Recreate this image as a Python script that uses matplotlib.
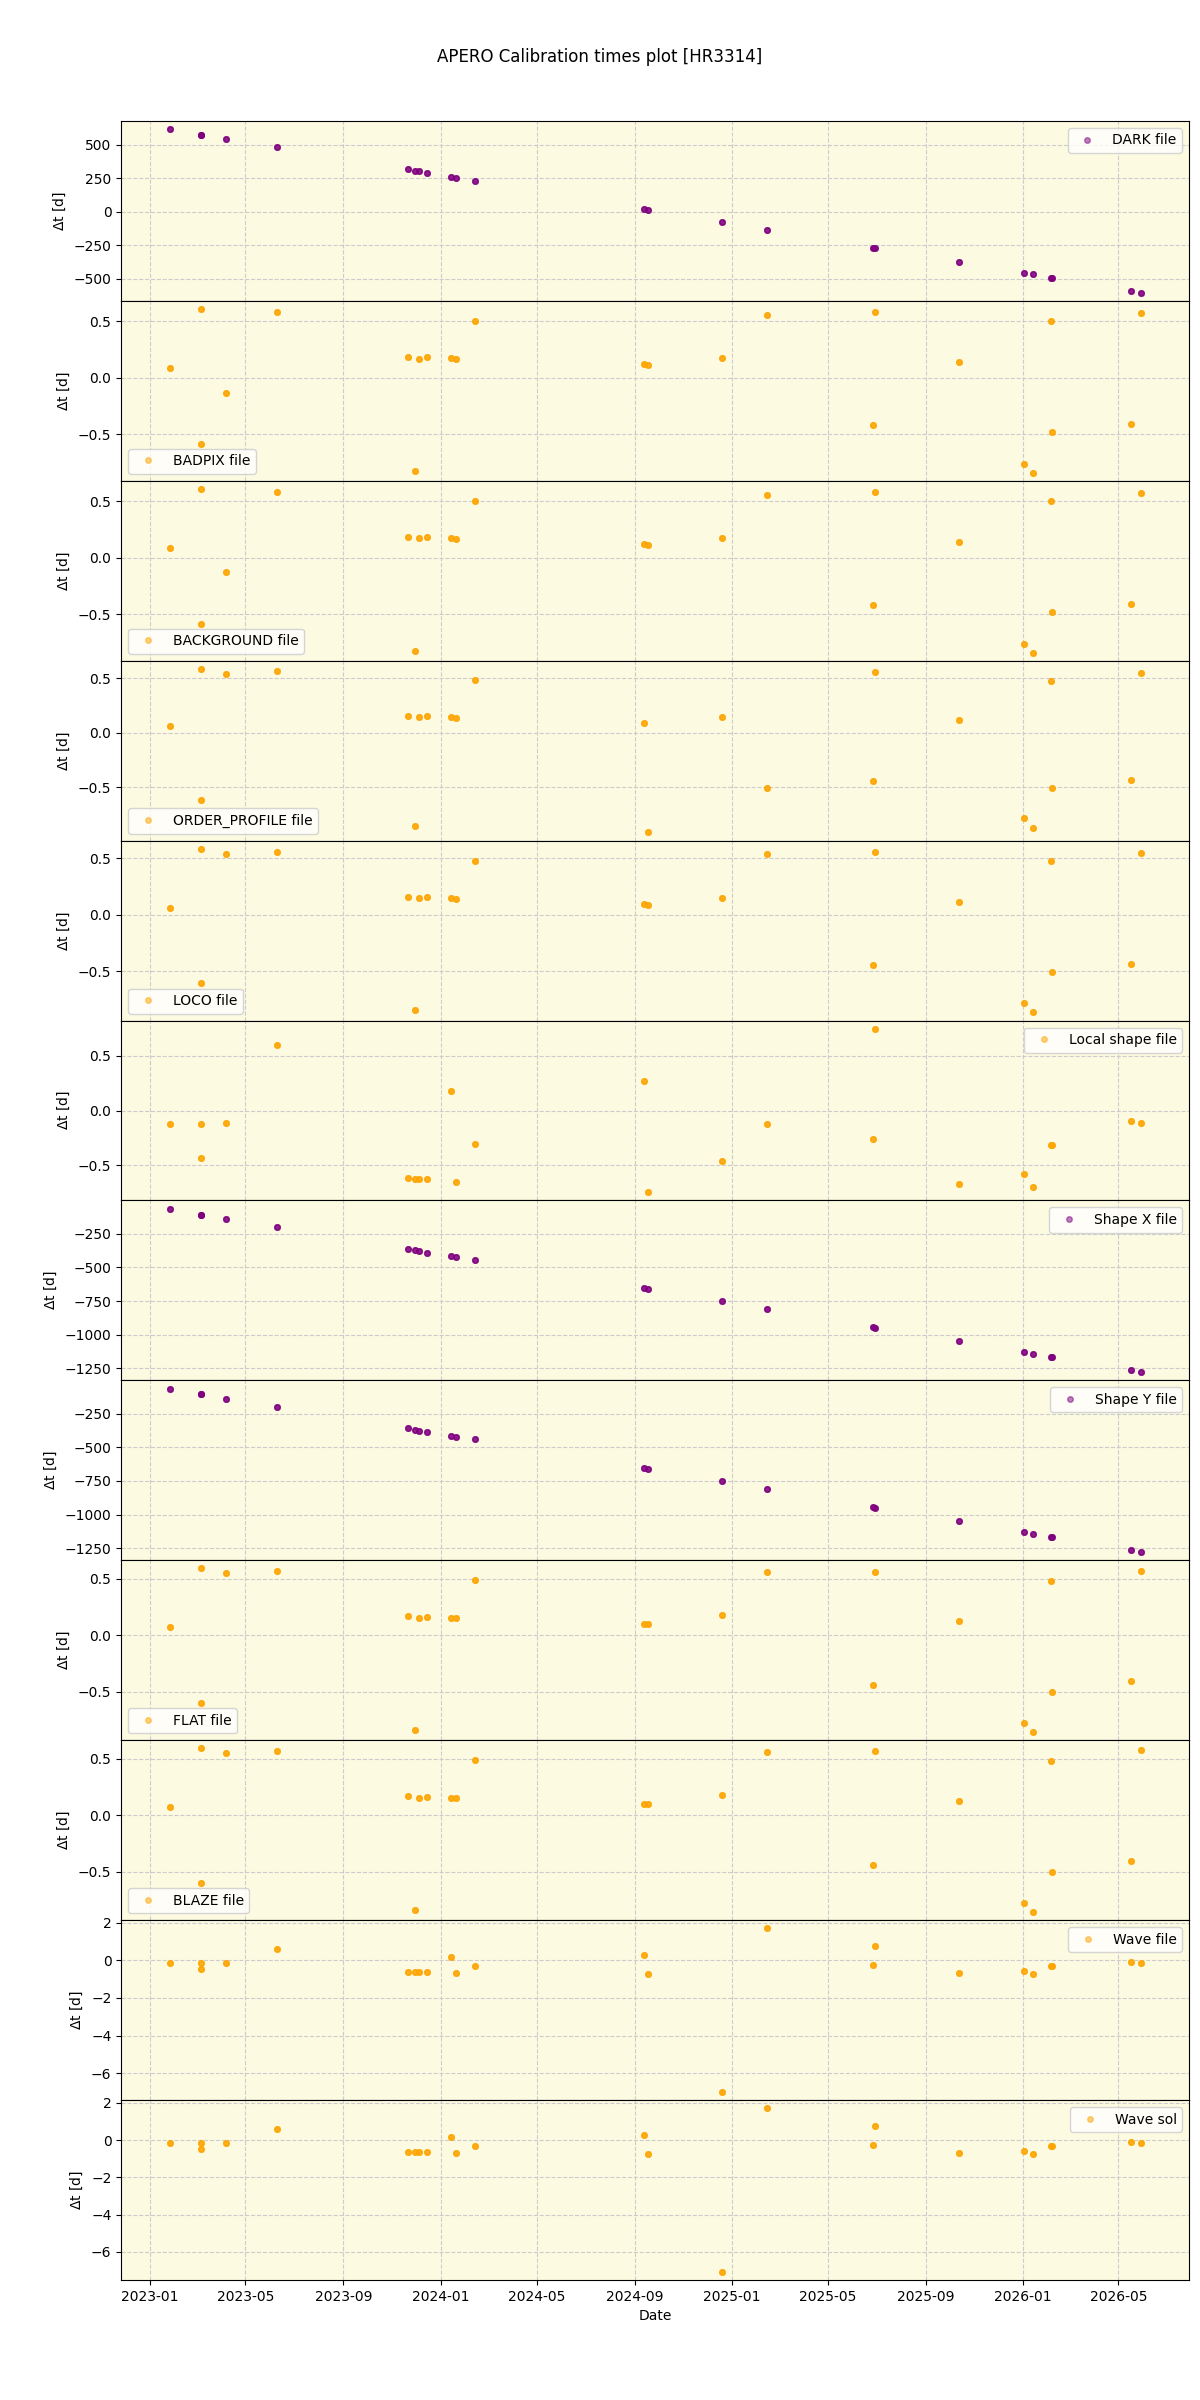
import matplotlib
matplotlib.use("Agg")
import matplotlib.pyplot as plt
import matplotlib.dates as mdates
import numpy as np
import pandas as pd

# one entry per observation (same date may appear twice when the cal files differ)
obs_dates = ['2023-01-26', '2023-03-06', '2023-03-06', '2023-04-07', '2023-06-10',
             '2023-11-21', '2023-11-30', '2023-12-05', '2023-12-15', '2024-01-14',
             '2024-01-20', '2024-02-13', '2024-09-13', '2024-09-17', '2024-12-19',
             '2025-02-14', '2025-06-27', '2025-06-30', '2025-10-13', '2026-01-02',
             '2026-01-14', '2026-02-05', '2026-02-07', '2026-05-17', '2026-05-29']
# exposures taken at each of those times (they sit on top of each other)
n_exp = [3] * len(obs_dates)

dark = [618, 574, 574, 544, 484, 320, 308, 303, 290, 262, 255, 233, 22, 15, -75,
        -134, -266, -270, -372, -454, -467, -490, -494, -588, -603]
badpix = [0.088, 0.61, -0.584, -0.13, 0.587, 0.186, -0.823, 0.171, 0.183, 0.177,
          0.165, 0.507, 0.122, 0.115, 0.174, 0.557, -0.42, 0.584, 0.142, -0.761,
          -0.84, 0.50, -0.484, -0.407, 0.575]
background = [0.088, 0.61, -0.584, -0.13, 0.587, 0.186, -0.823, 0.171, 0.183, 0.177,
              0.165, 0.507, 0.122, 0.115, 0.174, 0.557, -0.42, 0.584, 0.142, -0.761,
              -0.84, 0.50, -0.484, -0.407, 0.575]
order_profile = [0.058, 0.587, -0.615, 0.541, 0.566, 0.156, -0.853, 0.147, 0.156, 0.147,
                 0.138, 0.483, 0.092, -0.917, 0.147, -0.505, -0.446, 0.56, 0.116, -0.786,
                 -0.872, 0.477, -0.511, -0.437, 0.55]
loco = [0.062, 0.584, -0.61, 0.54, 0.56, 0.159, -0.85, 0.145, 0.156, 0.150,
        0.142, 0.48, 0.094, 0.088, 0.15, 0.534, -0.448, 0.557, 0.115, -0.788,
        -0.867, 0.475, -0.51, -0.434, 0.549]
local_shape = [-0.127, -0.127, -0.436, -0.118, 0.60, -0.618, -0.626, -0.624, -0.626, 0.182,
               -0.652, -0.303, 0.267, -0.745, -0.464, -0.127, -0.258, 0.745, -0.673, -0.582,
               -0.70, -0.312, -0.318, -0.10, -0.118]
shape_x = [-62, -106, -106, -136, -196, -359, -371, -376, -389, -418, -424, -441, -652,
           -664, -752, -812, -943, -948, -1049, -1131, -1146, -1166, -1170, -1262, -1280]
shape_y = [-62, -106, -106, -136, -196, -359, -371, -376, -389, -418, -424, -441, -652,
           -664, -752, -812, -943, -948, -1049, -1131, -1146, -1166, -1170, -1262, -1280]
flat = [0.071, 0.593, -0.60, 0.549, 0.569, 0.168, -0.84, 0.153, 0.165, 0.156,
        0.150, 0.49, 0.103, 0.097, 0.177, 0.56, -0.44, 0.566, 0.124, -0.779,
        -0.858, 0.484, -0.50, -0.407, 0.575]
blaze = [0.071, 0.593, -0.60, 0.549, 0.569, 0.168, -0.84, 0.153, 0.165, 0.156,
         0.150, 0.49, 0.103, 0.097, 0.177, 0.56, -0.44, 0.566, 0.124, -0.779,
         -0.858, 0.484, -0.50, -0.407, 0.575]
wave_file = [-0.16, -0.16, -0.48, -0.16, 0.58, -0.64, -0.64, -0.64, -0.64, 0.16,
             -0.69, -0.32, 0.27, -0.74, -7.0, 1.70, -0.27, 0.74, -0.69, -0.58,
             -0.74, -0.32, -0.32, -0.11, -0.16]
wave_sol = [-0.16, -0.16, -0.48, -0.16, 0.59, -0.64, -0.64, -0.64, -0.64, 0.16,
            -0.70, -0.32, 0.27, -0.75, -7.07, 1.71, -0.27, 0.75, -0.70, -0.59,
            -0.75, -0.32, -0.32, -0.11, -0.16]

panels = [
    ('DARK file', dark, 'purple', 'upper right'),
    ('BADPIX file', badpix, 'orange', 'lower left'),
    ('BACKGROUND file', background, 'orange', 'lower left'),
    ('ORDER_PROFILE file', order_profile, 'orange', 'lower left'),
    ('LOCO file', loco, 'orange', 'lower left'),
    ('Local shape file', local_shape, 'orange', 'upper right'),
    ('Shape X file', shape_x, 'purple', 'upper right'),
    ('Shape Y file', shape_y, 'purple', 'upper right'),
    ('FLAT file', flat, 'orange', 'lower left'),
    ('BLAZE file', blaze, 'orange', 'lower left'),
    ('Wave file', wave_file, 'orange', 'upper right'),
    ('Wave sol', wave_sol, 'orange', 'upper right'),
]

dates = np.repeat(pd.to_datetime(obs_dates).values, n_exp)

fig, axes = plt.subplots(len(panels), 1, figsize=(12, 24), sharex=True)
for ax, (label, vals, color, loc) in zip(axes, panels):
    ax.plot(dates, np.repeat(vals, n_exp), 'o', color=color, ms=4, alpha=0.5,
            label=label)
    ax.set_facecolor('#fcfae1')
    ax.grid(True, linestyle='--', color='0.8')
    ax.set_axisbelow(True)
    ax.set_ylabel(r'$\Delta$t [d]')
    ax.legend(loc=loc)

axes[-1].xaxis.set_major_locator(mdates.MonthLocator(bymonth=[1, 5, 9]))
axes[-1].xaxis.set_major_formatter(mdates.DateFormatter('%Y-%m'))
axes[-1].set_xlabel('Date')

fig.suptitle('APERO Calibration times plot [HR3314]')
fig.subplots_adjust(left=0.101, right=0.991, top=0.9496, bottom=0.05, hspace=0)
fig.savefig('out.png', dpi=100)
